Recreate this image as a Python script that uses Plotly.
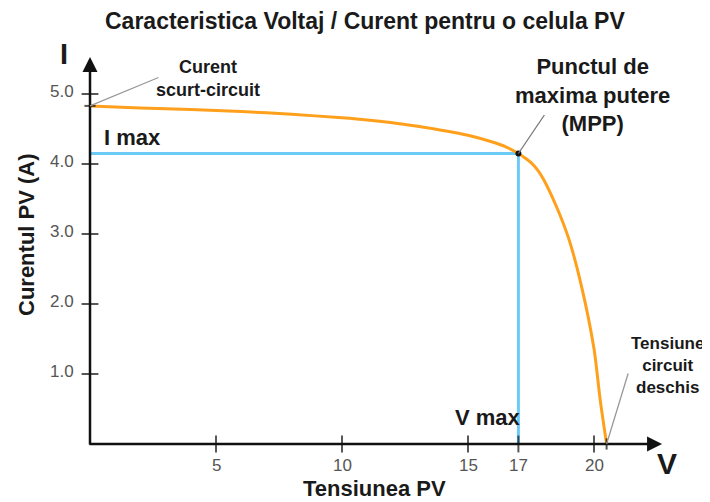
import plotly.graph_objects as go

# ---------------- data ----------------
voltage = [0, 2, 4, 6, 8, 10, 11, 12, 13, 14, 15, 16, 16.5, 17, 17.25, 17.5, 17.75, 18, 18.5, 19, 19.5, 20, 20.25, 20.5]
current = [4.83, 4.80, 4.78, 4.75, 4.71, 4.66, 4.63, 4.59, 4.54, 4.48, 4.41, 4.31, 4.245, 4.15,
           4.09, 4.02, 3.92, 3.78, 3.40, 2.93, 2.26, 1.36, 0.62, 0.0]

v_max = 17
i_max = 4.15
i_sc = 4.83
v_oc = 20.5

x_ticks = [5, 10, 15, 17, 20]
x_tick_labels = ["5", "10", "15", "17", "20"]
y_ticks = [1, 2, 3, 4, 5]
y_tick_labels = ["1.0", "2.0", "3.0", "4.0", "5.0"]

x_axis_end = 22.7
y_axis_end = 5.53

# ---------------- layout helpers ----------------
W, H = 710, 502
OFF = 8                     # page body margin
FW, FH = W - OFF, H - OFF   # figure size
X0, XS = 90, 25.2           # pixel of V=0, pixels per volt
Y0, YS = 444, 70            # pixel of I=0, pixels per amp
FONT = "Liberation Sans, Arial, sans-serif"


def px(x):
    return (x - OFF) / FW


def py(y):
    return 1 - (y - OFF) / FH


ORANGE = "#ffa01c"
BLUE = "#6ccaf7"

fig = go.Figure()

# reference lines (I max / V max)
fig.add_trace(go.Scatter(x=[0, v_max, v_max], y=[i_max, i_max, 0], mode="lines",
                         line=dict(color=BLUE, width=3), hoverinfo="skip", showlegend=False))

# I-V curve
fig.add_trace(go.Scatter(x=voltage, y=current, mode="lines",
                         line=dict(color=ORANGE, width=3, shape="spline", smoothing=0.8),
                         showlegend=False))

# axis tick marks
fig.add_trace(go.Scatter(x=x_ticks + [v_oc], y=[0] * (len(x_ticks) + 1), mode="markers",
                         marker=dict(symbol="line-ns", size=[12] * len(x_ticks) + [8],
                                     line=dict(color="#111", width=2)),
                         hoverinfo="skip", showlegend=False))
fig.add_trace(go.Scatter(x=[0] * (len(y_ticks) + 1), y=y_ticks + [i_sc], mode="markers",
                         marker=dict(symbol="line-ew", size=[12] * len(y_ticks) + [8],
                                     line=dict(color="#111", width=2)),
                         hoverinfo="skip", showlegend=False))

# MPP dot
fig.add_trace(go.Scatter(x=[v_max], y=[i_max], mode="markers",
                         marker=dict(color="#111", size=6), showlegend=False))

annotations = []

# axes with arrows
annotations.append(dict(x=x_axis_end, y=0, ax=-0.08, ay=0, xref="x", yref="y", axref="x", ayref="y",
                        showarrow=True, arrowhead=2, arrowsize=1.2, arrowwidth=2.5, arrowcolor="#111", text=""))
annotations.append(dict(x=0, y=y_axis_end, ax=0, ay=-0.03, xref="x", yref="y", axref="x", ayref="y",
                        showarrow=True, arrowhead=2, arrowsize=1.2, arrowwidth=2.5, arrowcolor="#111", text=""))

# leader lines
annotations.append(dict(x=0, y=i_sc, xref="x", yref="y", ax=70, ay=-29, showarrow=True,
                        arrowhead=0, arrowwidth=1.3, arrowcolor="#999", text=""))
annotations.append(dict(x=v_max, y=i_max, xref="x", yref="y", ax=27, ay=-40, showarrow=True,
                        arrowhead=0, arrowwidth=1.3, arrowcolor="#777", text=""))
annotations.append(dict(x=v_oc, y=0, xref="x", yref="y", ax=22, ay=-72, showarrow=True,
                        arrowhead=0, arrowwidth=1.3, arrowcolor="#999", text=""))

# tick labels
for v, t in zip(x_ticks, x_tick_labels):
    annotations.append(dict(x=v, y=0, xref="x", yref="y", text=t, showarrow=False,
                            yshift=-21, font=dict(family=FONT, size=17, color="#555")))
for i, t in zip(y_ticks, y_tick_labels):
    annotations.append(dict(x=0, y=i, xref="x", yref="y", text=t, showarrow=False,
                            xanchor="right", xshift=-14, yshift=3, font=dict(family=FONT, size=17, color="#555")))


def txt(x, y, text, size, bold=True, color="#1a1a1a", **kw):
    t = f"<b>{text}</b>" if bold else text
    d = dict(x=px(x), y=py(y), xref="paper", yref="paper", text=t, showarrow=False,
             font=dict(family=FONT, size=size, color=color), xanchor="center", yanchor="middle")
    d.update(kw)
    annotations.append(d)


txt(365, 21, "Caracteristica Voltaj / Curent pentru o celula PV", 23)
txt(64, 54, "I", 29)
txt(667, 463, "V", 30)
txt(375, 488, "Tensiunea PV", 22)
txt(26, 235, "Curentul PV (A)", 22, textangle=-90)
txt(208, 78, "Curent<br>scurt-circuit", 18)
txt(592, 95, "Punctul de<br>maxima putere<br>(MPP)", 22)
txt(132, 137, "I max", 22)
txt(488, 417, "V max", 22)
txt(667, 365, "Tensiune<br>circuit<br>deschis", 17)

fig.update_layout(
    width=FW, height=FH,
    margin=dict(l=0, r=0, t=0, b=0, pad=0),
    paper_bgcolor="white", plot_bgcolor="white",
    xaxis=dict(range=[(OFF - X0) / XS, (W - X0) / XS], visible=False, fixedrange=True),
    yaxis=dict(range=[(Y0 - H) / YS, (Y0 - OFF) / YS], visible=False, fixedrange=True),
    annotations=annotations,
    showlegend=False,
)

fig.write_html("out.html")
